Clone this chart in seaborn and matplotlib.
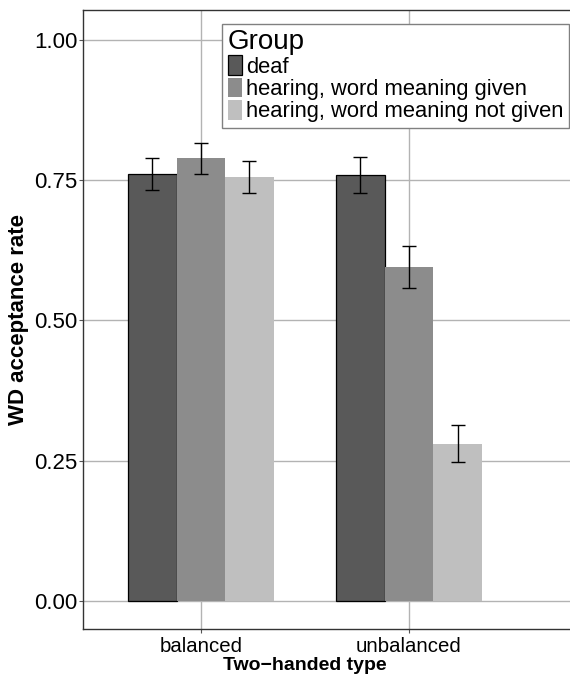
import numpy as np
import pandas as pd
import matplotlib
matplotlib.use('Agg')
import matplotlib.pyplot as plt
import seaborn as sns
from matplotlib.patches import Patch

# data
types = ['balanced', 'unbalanced']
groups = ['deaf', 'hearing, word meaning given', 'hearing, word meaning not given']
deaf_rate = [0.762, 0.760]
given_rate = [0.789, 0.595]
not_given_rate = [0.756, 0.280]
deaf_ci = [(0.732, 0.790), (0.728, 0.792)]
given_ci = [(0.761, 0.817), (0.558, 0.632)]
not_given_ci = [(0.727, 0.784), (0.247, 0.314)]
colors = ['#595959', '#8c8c8c', '#bfbfbf']
y_ticks = [0.0, 0.25, 0.5, 0.75, 1.0]

rates = [deaf_rate, given_rate, not_given_rate]
cis = [deaf_ci, given_ci, not_given_ci]
df = pd.DataFrame({
    'type': types * 3,
    'rate': deaf_rate + given_rate + not_given_rate,
    'group': [g for g in groups for _ in types],
})

sns.set_style('white')
plt.rcParams['font.family'] = ['Liberation Sans', 'DejaVu Sans']
plt.rcParams['text.color'] = 'black'
plt.rcParams['axes.labelcolor'] = 'black'

fig = plt.figure(figsize=(5.7, 6.76), dpi=100)
ax = fig.add_axes([83 / 570, 47 / 676, 1 - 83 / 570, (629 - 10) / 676])

sns.barplot(data=df, x='type', y='rate', hue='group', hue_order=groups,
            palette=colors, width=0.7, saturation=1, errorbar=None,
            linewidth=0, legend=False, ax=ax)

# black outline only on deaf bars
for p in ax.containers[0]:
    p.set_edgecolor('black')
    p.set_linewidth(0.9)

# error bars at the bar centres
for cont, vals, ci in zip(ax.containers, rates, cis):
    xs = [p.get_x() + p.get_width() / 2 for p in cont]
    lo = [v - c[0] for v, c in zip(vals, ci)]
    hi = [c[1] - v for v, c in zip(vals, ci)]
    ax.errorbar(xs, vals, yerr=[lo, hi], fmt='none', ecolor='black',
                elinewidth=1.0, capsize=5.3, capthick=1.0, zorder=5)

ax.set_xlim(-0.567, 1.774)
ax.set_ylim(-0.05, 1.0535)
ax.set_yticks(y_ticks)
ax.set_yticklabels(['0.00', '0.25', '0.50', '0.75', '1.00'])
ax.grid(True, color='#b3b3b3', linewidth=1.0)
ax.set_axisbelow(True)
ax.tick_params(axis='y', labelsize=16, length=3, color='#555555', pad=1, labelcolor='black')
ax.tick_params(axis='x', labelsize=14.7, length=3, color='#555555', pad=3, labelcolor='black')
ax.tick_params(left=True, bottom=True)

for side in ['top', 'left', 'bottom']:
    ax.spines[side].set_color('#333333')
    ax.spines[side].set_linewidth(1.0)
ax.spines['right'].set_visible(False)

ax.set_xlabel('Two\u2212handed type', fontsize=14, fontweight='bold', labelpad=2)
ax.set_ylabel('WD acceptance rate', fontsize=16, fontweight='bold', labelpad=4)
ax.xaxis.set_label_coords((305 - 83) / (570 - 83), -0.045)

handles = [Patch(facecolor=c, edgecolor='black' if i == 0 else 'none', linewidth=0.9)
           for i, c in enumerate(colors)]
leg = ax.legend(handles, groups, title='Group', loc='upper right',
                bbox_to_anchor=(569 / 570, 1 - 24 / 676), bbox_transform=fig.transFigure,
                fontsize=15.8, title_fontsize=20, alignment='left',
                handlelength=0.63, handleheight=1.0, handletextpad=0.2,
                labelspacing=0.0, borderpad=0.25, borderaxespad=0,
                fancybox=False, framealpha=1, edgecolor='#808080')
leg.get_frame().set_linewidth(1.0)

fig.savefig('out.png', dpi=100)
